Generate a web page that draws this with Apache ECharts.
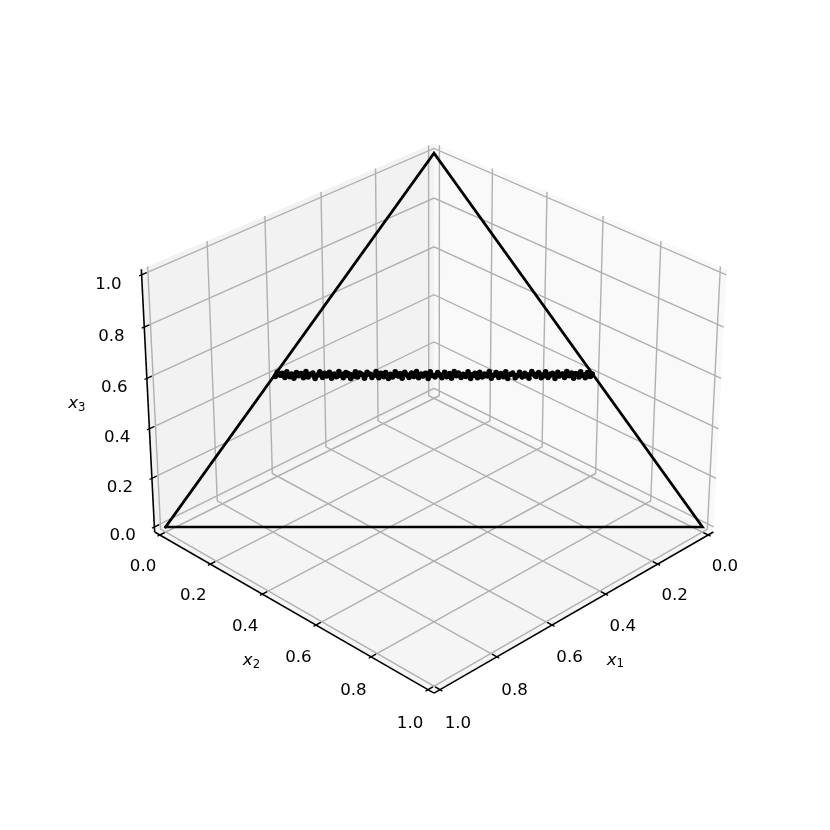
<!DOCTYPE html>
<html>
<head>
<meta charset="utf-8">
<script src="https://cdn.jsdelivr.net/npm/echarts@6/dist/echarts.min.js"></script>
<style>
  html, body { margin: 0; padding: 0; background: #fff; }
  #chart { width: 830px; height: 830px; }
</style>
</head>
<body>
<div id="chart"></div>
<script>
// tick values and labels, same for the three axes
const tickValues = [0, 0.2, 0.4, 0.6, 0.8, 1.0]
const tickLabels = ['0.0', '0.2', '0.4', '0.6', '0.8', '1.0']

// simplex outline
const triangleX1 = [1, 0, 0, 1]
const triangleX2 = [0, 1, 0, 0]
const triangleX3 = [0, 0, 1, 0]

const pointsX1 = [
  0.002, 0.006, 0.011, 0.015, 0.019, 0.024, 0.027, 0.033, 0.037, 0.041,
  0.046, 0.050, 0.054, 0.059, 0.064, 0.067, 0.072, 0.077, 0.081, 0.085,
  0.090, 0.094, 0.098, 0.103, 0.108, 0.112, 0.116, 0.121, 0.125, 0.129,
  0.134, 0.139, 0.143, 0.147, 0.152, 0.156, 0.161, 0.165, 0.169, 0.174,
  0.178, 0.183, 0.187, 0.192, 0.196, 0.200, 0.205, 0.209, 0.214, 0.218,
  0.223, 0.227, 0.231, 0.236, 0.240, 0.245, 0.249, 0.254, 0.258, 0.262,
  0.267, 0.271, 0.276, 0.280, 0.285, 0.289, 0.293, 0.298, 0.302, 0.307,
  0.311, 0.316, 0.320, 0.324, 0.329, 0.333, 0.338, 0.342, 0.347, 0.351,
  0.355, 0.360, 0.364, 0.369, 0.373, 0.378, 0.382, 0.386, 0.391, 0.395,
  0.400, 0.404, 0.409, 0.413, 0.417, 0.422, 0.426, 0.431, 0.435, 0.440,
  0.444, 0.448, 0.453, 0.457, 0.462, 0.466, 0.471, 0.475, 0.479, 0.484,
  0.488, 0.493, 0.497, 0.502, 0.506, 0.510, 0.515, 0.519, 0.524, 0.528,
  0.533, 0.537, 0.541, 0.546, 0.550, 0.555, 0.559, 0.564, 0.568, 0.572,
  0.577, 0.581, 0.586, 0.590, 0.595, 0.599,
  // denser core of the band
  0.004, 0.013, 0.022, 0.030, 0.039, 0.048, 0.057, 0.065, 0.074, 0.083,
  0.092, 0.101, 0.110, 0.118, 0.127, 0.136, 0.145, 0.154, 0.163, 0.171,
  0.180, 0.189, 0.198, 0.207, 0.216, 0.225, 0.233, 0.242, 0.251, 0.260,
  0.269, 0.278, 0.287, 0.295, 0.304, 0.313, 0.322, 0.331, 0.340, 0.349,
  0.357, 0.366, 0.375, 0.384, 0.393, 0.402, 0.411, 0.419, 0.428, 0.437,
  0.446, 0.455, 0.464, 0.473, 0.481, 0.490, 0.499, 0.508, 0.517, 0.526,
  0.535, 0.543, 0.552, 0.561, 0.570, 0.579, 0.588, 0.597
]
const pointsX2 = [
  0.598, 0.594, 0.589, 0.585, 0.581, 0.576, 0.573, 0.567, 0.563, 0.559,
  0.554, 0.550, 0.546, 0.541, 0.536, 0.533, 0.528, 0.523, 0.519, 0.515,
  0.510, 0.506, 0.502, 0.497, 0.492, 0.488, 0.484, 0.479, 0.475, 0.471,
  0.466, 0.461, 0.457, 0.453, 0.448, 0.444, 0.439, 0.435, 0.431, 0.426,
  0.422, 0.417, 0.413, 0.408, 0.404, 0.400, 0.395, 0.391, 0.386, 0.382,
  0.377, 0.373, 0.369, 0.364, 0.360, 0.355, 0.351, 0.346, 0.342, 0.338,
  0.333, 0.329, 0.324, 0.320, 0.315, 0.311, 0.307, 0.302, 0.298, 0.293,
  0.289, 0.284, 0.280, 0.276, 0.271, 0.267, 0.262, 0.258, 0.253, 0.249,
  0.245, 0.240, 0.236, 0.231, 0.227, 0.222, 0.218, 0.214, 0.209, 0.205,
  0.200, 0.196, 0.191, 0.187, 0.183, 0.178, 0.174, 0.169, 0.165, 0.160,
  0.156, 0.152, 0.147, 0.143, 0.138, 0.134, 0.129, 0.125, 0.121, 0.116,
  0.112, 0.107, 0.103, 0.098, 0.094, 0.090, 0.085, 0.081, 0.076, 0.072,
  0.067, 0.063, 0.059, 0.054, 0.050, 0.045, 0.041, 0.036, 0.032, 0.028,
  0.023, 0.019, 0.014, 0.010, 0.005, 0.001,
  0.596, 0.587, 0.578, 0.570, 0.561, 0.552, 0.543, 0.535, 0.526, 0.517,
  0.508, 0.499, 0.490, 0.482, 0.473, 0.464, 0.455, 0.446, 0.437, 0.429,
  0.420, 0.411, 0.402, 0.393, 0.384, 0.375, 0.367, 0.358, 0.349, 0.340,
  0.331, 0.322, 0.313, 0.305, 0.296, 0.287, 0.278, 0.269, 0.260, 0.251,
  0.243, 0.234, 0.225, 0.216, 0.207, 0.198, 0.189, 0.181, 0.172, 0.163,
  0.154, 0.145, 0.136, 0.127, 0.119, 0.110, 0.101, 0.092, 0.083, 0.074,
  0.065, 0.057, 0.048, 0.039, 0.030, 0.021, 0.012, 0.003
]
const pointsX3 = [
  0.404, 0.394, 0.410, 0.389, 0.400, 0.413, 0.392, 0.406, 0.387, 0.408,
  0.397, 0.414, 0.390, 0.403, 0.396, 0.411, 0.386, 0.407, 0.399, 0.390,
  0.413, 0.401, 0.389, 0.410, 0.394, 0.404, 0.414, 0.387, 0.400, 0.407,
  0.392, 0.411, 0.397, 0.389, 0.408, 0.403, 0.386, 0.413, 0.393, 0.406,
  0.390, 0.410, 0.399, 0.387, 0.414, 0.396, 0.404, 0.392, 0.411, 0.389,
  0.407, 0.400, 0.386, 0.413, 0.394, 0.403, 0.390, 0.408, 0.397, 0.414,
  0.387, 0.406, 0.393, 0.411, 0.389, 0.401, 0.410, 0.392, 0.399, 0.413,
  0.386, 0.407, 0.396, 0.404, 0.389, 0.414, 0.394, 0.408, 0.390, 0.400,
  0.411, 0.387, 0.406, 0.397, 0.413, 0.392, 0.403, 0.386, 0.410, 0.393,
  0.407, 0.389, 0.414, 0.399, 0.390, 0.404, 0.411, 0.387, 0.401, 0.408,
  0.392, 0.413, 0.394, 0.386, 0.406, 0.410, 0.389, 0.400, 0.414, 0.393,
  0.404, 0.387, 0.411, 0.396, 0.407, 0.390, 0.413, 0.399, 0.386, 0.408,
  0.403, 0.392, 0.414, 0.389, 0.406, 0.397, 0.410, 0.387, 0.404, 0.393,
  0.413, 0.390, 0.407, 0.400, 0.411, 0.394,
  0.397, 0.403, 0.399, 0.402, 0.396, 0.401, 0.404, 0.398, 0.400, 0.403,
  0.397, 0.402, 0.399, 0.404, 0.396, 0.401, 0.398, 0.403, 0.400, 0.397,
  0.402, 0.399, 0.404, 0.396, 0.401, 0.398, 0.403, 0.397, 0.400, 0.402,
  0.399, 0.404, 0.396, 0.401, 0.398, 0.403, 0.397, 0.400, 0.402, 0.399,
  0.404, 0.396, 0.401, 0.398, 0.403, 0.397, 0.400, 0.402, 0.399, 0.404,
  0.396, 0.401, 0.398, 0.403, 0.397, 0.400, 0.402, 0.399, 0.404, 0.396,
  0.401, 0.398, 0.403, 0.397, 0.400, 0.402, 0.399, 0.401
]

// matplotlib style view: elevation 30, azimuth 45, box 4:4:3
const elev = 30 * Math.PI / 180
const azim = 45 * Math.PI / 180
const dist = 10
const box = [1.1905, 1.1905, 0.8929]
const screenScale = 3260
const screenCx = 434
const screenCy = 403.7
// panes stick out of the limits by 1/48 of the range
const lo = -1 / 48
const hi = 1 + 1 / 48

const w = [Math.cos(elev) * Math.cos(azim), Math.cos(elev) * Math.sin(azim), Math.sin(elev)]
const u = [-Math.SQRT1_2, Math.SQRT1_2, 0]
const v = [w[1] * u[2] - w[2] * u[1], w[2] * u[0] - w[0] * u[2], w[0] * u[1] - w[1] * u[0]]

function project(p) {
  const d = [(p[0] - 0.5) * box[0], (p[1] - 0.5) * box[1], (p[2] - 0.5) * box[2]]
  const dot = (a) => a[0] * d[0] + a[1] * d[1] + a[2] * d[2]
  const depth = dist - dot(w)
  return [screenCx + screenScale * dot(u) / depth, screenCy - screenScale * dot(v) / depth]
}

const panes = [
  { color: '#f9f9f9', corners: [[lo, lo, lo], [lo, hi, lo], [lo, hi, hi], [lo, lo, hi]] },
  { color: '#f2f2f2', corners: [[lo, lo, lo], [hi, lo, lo], [hi, lo, hi], [lo, lo, hi]] },
  { color: '#f5f5f5', corners: [[lo, lo, lo], [hi, lo, lo], [hi, hi, lo], [lo, hi, lo]] }
]

const tickIn = 0.2 / 12
const tickOut = 0.1 / 12

let polylines = []
tickValues.forEach((t) => {
  const grid = { color: '#b0b0b0', width: 1.4 }
  polylines.push({ ...grid, pts: [[t, hi, lo], [t, lo, lo], [t, lo, hi]] })
  polylines.push({ ...grid, pts: [[hi, t, lo], [lo, t, lo], [lo, t, hi]] })
  polylines.push({ ...grid, pts: [[hi, lo, t], [lo, lo, t], [lo, hi, t]] })
})
polylines.push({ color: '#000', width: 1.6, pts: [[lo, hi, lo], [hi, hi, lo]] })
polylines.push({ color: '#000', width: 1.6, pts: [[hi, lo, lo], [hi, hi, lo]] })
polylines.push({ color: '#000', width: 1.6, pts: [[hi, lo, lo], [hi, lo, hi]] })
tickValues.forEach((t) => {
  const tick = { color: '#000', width: 1.33 }
  polylines.push({ ...tick, pts: [[t, hi - tickIn, lo], [t, hi + tickOut, lo]] })
  polylines.push({ ...tick, pts: [[hi - tickIn, t, lo], [hi + tickOut, t, lo]] })
  polylines.push({ ...tick, pts: [[hi - tickIn, lo, t], [hi + tickOut, lo, t]] })
})

let texts = []
tickValues.forEach((t, i) => {
  texts.push({ text: tickLabels[i], pos: [t, hi + 0.062, lo - 0.093] })
  texts.push({ text: tickLabels[i], pos: [hi + 0.062, t, lo - 0.093] })
  texts.push({ text: tickLabels[i], pos: [hi + 0.06, lo - 0.06, t - 0.037] })
})
texts.push({ text: '{i|x}{s|1}', pos: [0.5, hi + 0.128, lo - 0.125] })
texts.push({ text: '{i|x}{s|2}', pos: [hi + 0.132, 0.5, lo - 0.125] })
texts.push({ text: '{i|x}{s|3}', pos: [hi + 0.13, lo - 0.13, 0.5] })

const myChart = echarts.init(document.getElementById('chart'), null, { renderer: 'canvas' })

const option = {
  animation: false,
  backgroundColor: '#ffffff',
  grid: { left: 0, right: 0, top: 0, bottom: 0 },
  xAxis: { type: 'value', min: 0, max: 830, show: false },
  yAxis: { type: 'value', min: 0, max: 830, inverse: true, show: false },
  series: [
    {
      type: 'custom',
      silent: true,
      z: 1,
      data: panes.map((_, i) => [i]),
      renderItem: (params, api) => {
        const pane = panes[params.dataIndex]
        return {
          type: 'polygon',
          shape: { points: pane.corners.map((c) => api.coord(project(c))) },
          style: { fill: pane.color }
        }
      }
    },
    {
      type: 'custom',
      silent: true,
      z: 2,
      data: polylines.map((_, i) => [i]),
      renderItem: (params, api) => {
        const l = polylines[params.dataIndex]
        return {
          type: 'polyline',
          shape: { points: l.pts.map((c) => api.coord(project(c))) },
          style: { stroke: l.color, lineWidth: l.width, fill: null }
        }
      }
    },
    {
      type: 'line',
      z: 3,
      showSymbol: false,
      silent: true,
      lineStyle: { color: '#000', width: 2.7, join: 'miter', cap: 'square' },
      data: triangleX1.map((x, i) => project([x, triangleX2[i], triangleX3[i]]))
    },
    {
      type: 'scatter',
      z: 4,
      silent: true,
      symbolSize: 5.5,
      itemStyle: { color: '#000', opacity: 1 },
      data: pointsX1.map((x, i) => project([x, pointsX2[i], pointsX3[i]]))
    },
    {
      type: 'custom',
      silent: true,
      z: 5,
      data: texts.map((_, i) => [i]),
      renderItem: (params, api) => {
        const t = texts[params.dataIndex]
        const c = api.coord(project(t.pos))
        return {
          type: 'text',
          style: {
            x: c[0],
            y: c[1],
            text: t.text,
            fontFamily: 'DejaVu Sans',
            fontSize: 16.67,
            fill: '#000',
            align: 'center',
            verticalAlign: 'middle',
            rich: {
              i: { fontFamily: 'DejaVu Sans', fontStyle: 'italic', fontSize: 16.67, fill: '#000', lineHeight: 20 },
              s: { fontFamily: 'DejaVu Sans', fontSize: 11.7, fill: '#000', lineHeight: 20, verticalAlign: 'bottom', padding: [6, 0, 0, 0] }
            }
          }
        }
      }
    }
  ]
}

option && myChart.setOption(option)
</script>
</body>
</html>
